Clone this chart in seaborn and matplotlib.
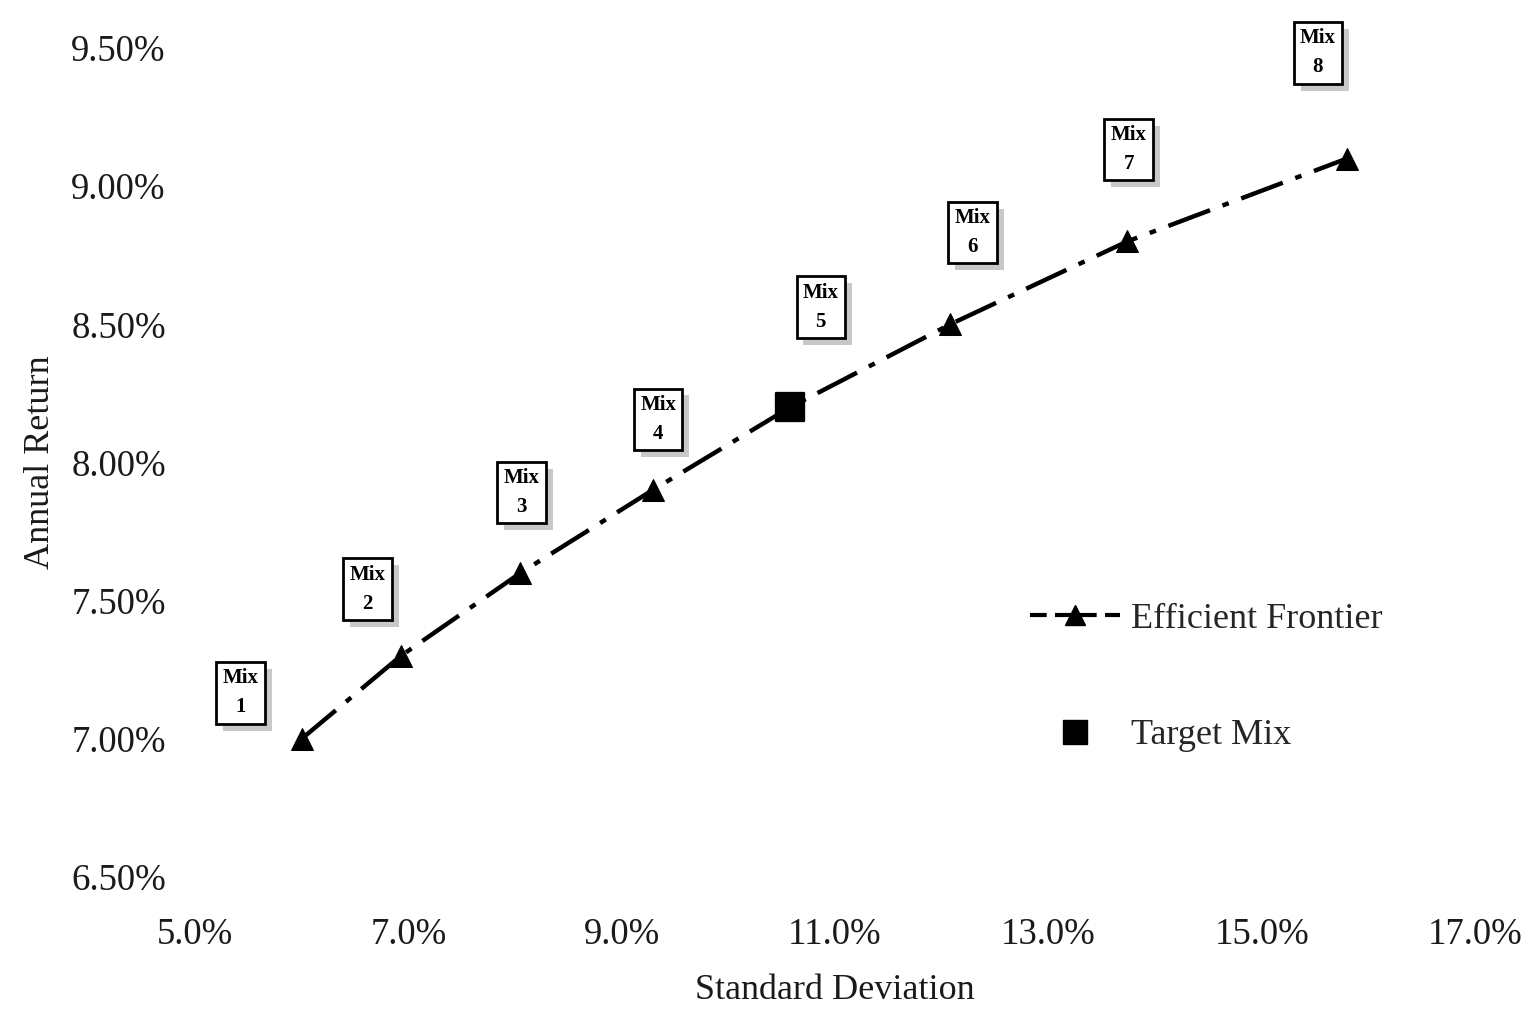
import matplotlib
matplotlib.use("Agg")
import matplotlib.pyplot as plt
import matplotlib.patheffects as pe
import seaborn as sns
import pandas as pd
from matplotlib.lines import Line2D
from matplotlib.ticker import FuncFormatter

# ---- data ----
mix_labels = ["Mix\n1", "Mix\n2", "Mix\n3", "Mix\n4", "Mix\n5", "Mix\n6", "Mix\n7", "Mix\n8"]
std_dev = [6.0, 6.93, 8.05, 9.29, 10.58, 12.08, 13.74, 15.8]
annual_return = [7.0, 7.3, 7.6, 7.9, 8.2, 8.5, 8.8, 9.1]
target_std = [10.58]
target_ret = [8.2]
x_ticks = [5.0, 7.0, 9.0, 11.0, 13.0, 15.0, 17.0]
y_ticks = [6.5, 7.0, 7.5, 8.0, 8.5, 9.0, 9.5]

# label offsets (in points) relative to each point
label_dx = [-44, -24, 1, 4, 22, 16, 1, -21]
label_dy = [33, 48, 58, 51, 72, 66, 66, 76]

sns.set_style("white")
plt.rcParams["font.family"] = ["Liberation Serif", "DejaVu Serif"]

fig = plt.figure(figsize=(15.27, 10.10), dpi=100)
ax = fig.add_axes([0.1277, 0.1317, 0.966 - 0.1277, 0.9525 - 0.1317])

frontier = pd.DataFrame({"sd": std_dev, "ret": annual_return})
target = pd.DataFrame({"sd": target_std, "ret": target_ret})

sns.lineplot(data=frontier, x="sd", y="ret", ax=ax, color="black",
             linewidth=3.2, marker="^", markersize=16, markeredgecolor="black",
             linestyle=(0, (10, 3, 1.5, 3)), zorder=3)
sns.scatterplot(data=target, x="sd", y="ret", ax=ax, color="black",
                marker="s", s=430, edgecolor="black", zorder=4)

for lab, x, y, dx, dy in zip(mix_labels, std_dev, annual_return, label_dx, label_dy):
    t = ax.annotate(lab, xy=(x, y), xytext=(dx, dy), textcoords="offset points",
                    ha="center", va="center", fontsize=15, fontweight="bold",
                    color="black", linespacing=1.6, annotation_clip=False,
                    bbox=dict(boxstyle="square,pad=0.3", fc="white", ec="black", lw=2),
                    zorder=6)
    t.get_bbox_patch().set_path_effects([
        pe.SimplePatchShadow(offset=(5, -5), shadow_rgbFace="#c8c8c8", alpha=1.0),
        pe.Normal(),
    ])

ax.set_xlim(x_ticks[0], x_ticks[-1])
ax.set_ylim(y_ticks[0], y_ticks[-1])
ax.set_xticks(x_ticks)
ax.set_yticks(y_ticks)
ax.xaxis.set_major_formatter(FuncFormatter(lambda v, p: f"{v:.1f}%"))
ax.yaxis.set_major_formatter(FuncFormatter(lambda v, p: f"{v:.2f}%"))
ax.tick_params(axis="both", length=0, labelsize=26.5, colors="#1a1a1a")
ax.tick_params(axis="x", pad=29)
ax.tick_params(axis="y", pad=21)
for s in ax.spines.values():
    s.set_visible(False)

ax.set_xlabel("Standard Deviation", fontsize=26, color="#1a1a1a", labelpad=16)
ax.set_ylabel("Annual Return", fontsize=26, color="#1a1a1a", labelpad=10)

handles = [
    Line2D([0], [0], color="black", lw=3, linestyle=(0, (4, 2)), marker="^",
           markersize=15, markeredgecolor="black"),
    Line2D([0], [0], color="black", lw=0, marker="s", markersize=17),
]
ax.legend(handles, ["Efficient Frontier", "Target Mix"], loc="upper left",
          bbox_to_anchor=(0.627, 0.37), frameon=False, fontsize=26,
          handlelength=2.5, handletextpad=0.3, labelspacing=2.3)

fig.savefig("out.png", dpi=100, facecolor="white")
